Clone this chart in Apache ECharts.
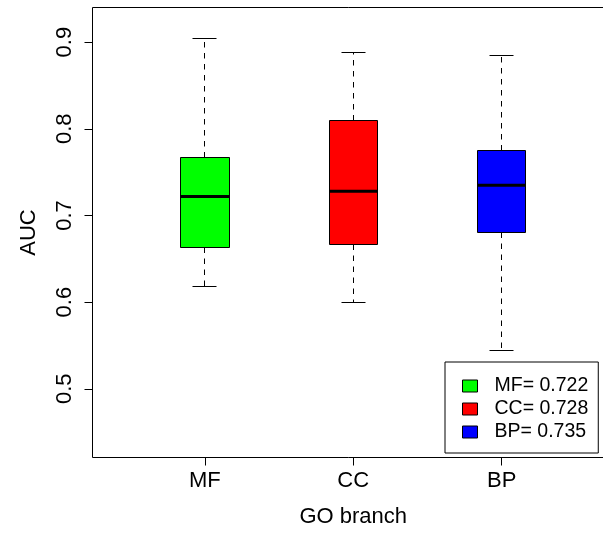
<!DOCTYPE html>
<html>
<head>
<meta charset="utf-8">
<script src="https://cdn.jsdelivr.net/npm/echarts@6/dist/echarts.min.js"></script>
<style>
  html, body { margin: 0; padding: 0; background: #fff; }
  #chart { width: 603px; height: 533px; }
</style>
</head>
<body>
<div id="chart"></div>
<script>
// AUC distribution per GO branch (box-and-whisker summaries)
const categories  = ['MF', 'CC', 'BP'];
const whiskerLow  = [0.618, 0.600, 0.544];
const quartile1   = [0.663, 0.666, 0.680];
const medians     = [0.722, 0.728, 0.735];
const quartile3   = [0.767, 0.810, 0.775];
const whiskerHigh = [0.904, 0.888, 0.885];
const boxColors   = ['#00ff00', '#ff0000', '#0000ff'];
const yTicks      = [0.5, 0.6, 0.7, 0.8, 0.9];

const FONT = "'Liberation Sans', Arial, Helvetica, sans-serif";
const BOX_HALF = 0.1633;   // half box width, in x-axis units
const CAP_HALF = 0.082;    // half whisker-cap width, in x-axis units

const crisp = v => Math.round(v - 0.5) + 0.5;

function renderBox(params, api) {
  const x = api.value(0);
  const lo = api.value(1), q1 = api.value(2), med = api.value(3),
        q3 = api.value(4), hi = api.value(5);
  const color = api.visual('color');

  const cx = crisp(api.coord([x, med])[0]);
  const left = crisp(api.coord([x - BOX_HALF, med])[0]);
  const right = crisp(api.coord([x + BOX_HALF, med])[0]);
  const capL = crisp(api.coord([x - CAP_HALF, med])[0]);
  const capR = crisp(api.coord([x + CAP_HALF, med])[0]);
  const yLo = crisp(api.coord([x, lo])[1]);
  const yQ1 = crisp(api.coord([x, q1])[1]);
  const yMed = api.coord([x, med])[1];
  const yQ3 = crisp(api.coord([x, q3])[1]);
  const yHi = crisp(api.coord([x, hi])[1]);

  const dashed = { stroke: '#000', lineWidth: 1, lineDash: [5.5, 5.5] };
  const solid = { stroke: '#000', lineWidth: 1 };

  return {
    type: 'group',
    children: [
      { type: 'line', shape: { x1: cx, y1: yQ3, x2: cx, y2: yHi }, style: dashed },
      { type: 'line', shape: { x1: cx, y1: yQ1, x2: cx, y2: yLo }, style: dashed },
      { type: 'line', shape: { x1: capL, y1: yHi, x2: capR, y2: yHi }, style: solid },
      { type: 'line', shape: { x1: capL, y1: yLo, x2: capR, y2: yLo }, style: solid },
      { type: 'rect', shape: { x: left, y: yQ3, width: right - left, height: yQ1 - yQ3 },
        style: { fill: color, stroke: '#000', lineWidth: 1 } },
      { type: 'line', shape: { x1: left, y1: yMed, x2: right, y2: yMed },
        style: { stroke: '#000', lineWidth: 3 } }
    ]
  };
}

const seriesNames = categories.map((c, i) => c + '= ' + medians[i].toFixed(3));

const series = categories.map((c, i) => ({
  type: 'custom',
  name: seriesNames[i],
  renderItem: renderBox,
  itemStyle: { color: boxColors[i], borderColor: '#000', borderWidth: 1 },
  encode: { x: 0, y: [1, 2, 3, 4, 5] },
  data: [[i + 1, whiskerLow[i], quartile1[i], medians[i], quartile3[i], whiskerHigh[i]]],
  silent: true
}));

const chart = echarts.init(document.getElementById('chart'), null, { renderer: 'canvas' });
chart.setOption({
  animation: false,
  backgroundColor: '#fff',
  textStyle: { fontFamily: FONT },
  grid: {
    left: 92.5, top: 7.5, width: 521.5, height: 450,
    outerBoundsMode: 'none',
    containLabel: false,
    show: true, borderColor: '#000', borderWidth: 1, backgroundColor: 'transparent'
  },
  xAxis: {
    type: 'value',
    min: 0.244, max: 3.756,
    splitLine: { show: false },
    axisLine: { show: false },
    axisTick: { show: true, length: 8, lineStyle: { color: '#000', width: 1 },
                customValues: [1, 2, 3] },
    axisLabel: {
      customValues: [1, 2, 3],
      formatter: v => categories[Math.round(v) - 1],
      fontFamily: FONT, fontSize: 22, color: '#000', margin: 12
    },
    name: 'GO branch',
    nameLocation: 'middle',
    nameGap: 48,
    nameTextStyle: { fontFamily: FONT, fontSize: 22, color: '#000' }
  },
  yAxis: {
    type: 'value',
    min: 0.4207, max: 0.940,
    splitLine: { show: false },
    axisLine: { show: false },
    axisTick: { show: true, length: 8, lineStyle: { color: '#000', width: 1 },
                customValues: yTicks },
    axisLabel: {
      customValues: yTicks,
      formatter: v => v.toFixed(1),
      rotate: 90,
      fontFamily: FONT, fontSize: 22, color: '#000', margin: 17
    },
    name: 'AUC',
    nameLocation: 'middle',
    nameGap: 53,
    nameTextStyle: { fontFamily: FONT, fontSize: 22, color: '#000' }
  },
  legend: {
    orient: 'vertical',
    left: 445, top: 362,
    data: seriesNames,
    icon: 'rect',
    itemWidth: 15, itemHeight: 12,
    itemGap: 3,
    padding: [14, 10, 11, 17],
    borderColor: '#000', borderWidth: 1,
    backgroundColor: '#fff',
    selectedMode: false,
    itemStyle: { borderColor: '#000', borderWidth: 1 },
    textStyle: { fontFamily: FONT, fontSize: 19.5, color: '#000', lineHeight: 20,
                 padding: [0, 0, 0, 12] }
  },
  series: series
});
</script>
</body>
</html>
